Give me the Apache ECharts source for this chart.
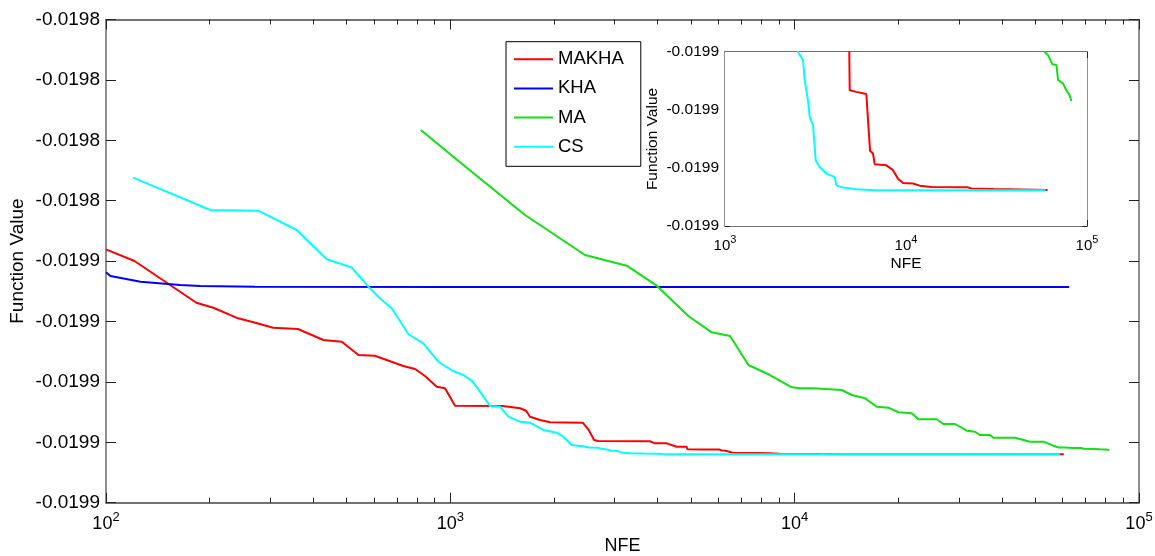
<!DOCTYPE html>
<html>
<head>
<meta charset="utf-8">
<title>Convergence curves</title>
<script src="https://cdn.jsdelivr.net/npm/echarts@6/dist/echarts.min.js"></script>
<style>
  html, body { margin: 0; padding: 0; background: #fff; }
  #chart { width: 1155px; height: 556px; }
</style>
</head>
<body>
<div id="chart"></div>
<script>
// values (NFE, function value)
var seriesNames = ['MAKHA', 'KHA', 'MA', 'CS']
var seriesColors = ['#ff0000', '#0000ff', '#11e011', '#00ffff']

var makhaNfe = [100, 121, 152, 183, 205, 242, 268, 306, 361, 428, 484, 541, 604, 730, 790, 844, 913, 965, 1032, 1422,
  1594, 1660, 1704, 1822, 1949, 2424, 2516, 2615, 2691, 3802, 3931, 4251, 4546, 4850, 4887, 5321, 6040, 6143, 6301, 6330,
  6573, 6714, 7794, 8475, 9031, 9620, 10931, 11905, 13800, 22000, 22970, 30650, 60500]
var makhaVal = [-0.019849025, -0.01984999, -0.019851895, -0.019853445, -0.01985386, -0.019854735, -0.019855065, -0.019855515,
  -0.01985562, -0.01985653, -0.01985667, -0.019857775, -0.01985783, -0.019858685, -0.01985893, -0.01985951, -0.019860395,
  -0.01986053, -0.01986197, -0.019861995, -0.019862185, -0.019862385, -0.01986288, -0.019863155, -0.019863345, -0.019863375,
  -0.019863925, -0.01986481, -0.01986489, -0.019864915, -0.019865085, -0.019865085, -0.019865365, -0.019865365, -0.019865583,
  -0.01986559, -0.019865599, -0.019865686, -0.019865693, -0.019865834, -0.019865845, -0.019865889, -0.019865894, -0.019865914,
  -0.019865949, -0.019865967, -0.019865969, -0.019865978, -0.019865984, -0.019865985, -0.01986599, -0.019865992, -0.019865996]

var khaNfe = [100, 103, 126, 164, 188, 271, 1000, 62700]
var khaVal = [-0.019850925, -0.019851235, -0.019851705, -0.01985198, -0.01985206, -0.01985212, -0.019852135, -0.019852145]

var maNfe = [821, 1067, 1648, 2461, 3253, 3977, 4912, 5743, 6494, 7337, 8480, 9808, 10370, 11330, 13700, 14650, 16020,
  17320, 18720, 20010, 21880, 22870, 25860, 27030, 29240, 31610, 33410, 34540, 36940, 37770, 43660, 48280, 52770, 56420,
  58400, 60900, 64400, 67800, 69200, 73700, 76900, 80200, 82000]
var maVal = [-0.019839145, -0.01984182, -0.019846185, -0.019849495, -0.01985038, -0.019852035, -0.019854545, -0.019855895,
  -0.0198562, -0.0198586, -0.01985943, -0.019860445, -0.01986053, -0.01986053, -0.01986067, -0.019861085, -0.01986136,
  -0.019862055, -0.019862135, -0.019862515, -0.0198626, -0.019863095, -0.019863095, -0.019863485, -0.019863485, -0.01986404,
  -0.019864125, -0.019864395, -0.019864395, -0.01986462, -0.01986462, -0.01986495, -0.01986495, -0.01986528, -0.019865425,
  -0.019865438, -0.019865476, -0.019865479, -0.019865541, -0.019865555, -0.019865583, -0.019865604, -0.019865628]

var csNfe = [120, 201, 277, 358, 438, 517, 578, 632, 676, 755, 835, 923, 1020, 1091, 1154, 1220, 1304, 1394, 1474, 1594,
  1704, 1863, 2037, 2129, 2252, 2450, 2531, 2698, 2756, 2874, 2938, 3064, 3170, 3336, 3633, 4037, 4126, 4487, 5321, 6714, 59000]
var csVal = [-0.019843095, -0.01984577, -0.01984583, -0.019847425, -0.01984985, -0.01985053, -0.01985212, -0.01985322,
  -0.019853905, -0.019856035, -0.019856805, -0.01985833, -0.0198591, -0.01985943, -0.0198599, -0.01986081, -0.019861995,
  -0.019862055, -0.01986288, -0.019863295, -0.019863375, -0.01986398, -0.019864205, -0.019864535, -0.019865225, -0.01986535,
  -0.019865425, -0.019865458, -0.019865541, -0.019865624, -0.019865693, -0.019865728, -0.019865873, -0.019865901, -0.019865928,
  -0.019865942, -0.019865977, -0.019865986, -0.019865993, -0.019865997, -0.019865997]

// axes
var xTickValues = [100, 1000, 10000, 100000]
var xMinorValues = [200, 300, 400, 500, 600, 700, 800, 900, 2000, 3000, 4000, 5000, 6000, 7000, 8000, 9000,
  20000, 30000, 40000, 50000, 60000, 70000, 80000, 90000]
var yTickValues = [-0.01987, -0.019865, -0.01986, -0.019855, -0.01985, -0.019845, -0.01984, -0.019835, -0.01983]
var yTickLabels = ['-0.0199', '-0.0199', '-0.0199', '-0.0199', '-0.0199', '-0.0198', '-0.0198', '-0.0198', '-0.0198']

var insetXTickValues = [1000, 10000, 100000]
var insetXMinorValues = [2000, 3000, 4000, 5000, 6000, 7000, 8000, 9000, 20000, 30000, 40000, 50000, 60000, 70000, 80000, 90000]
var insetYTickValues = [-0.019866145, -0.019865905, -0.019865665, -0.019865425]
var insetYTickLabels = ['-0.0199', '-0.0199', '-0.0199', '-0.0199']

var FONT = '"Liberation Sans", Arial, sans-serif'
var FRAME = '#6a6a6a'
var TICK = '#222'

function pairs(xs, ys) {
  var out = []
  for (var i = 0; i < xs.length; i++) out.push([xs[i], ys[i]])
  return out
}

function powLabel(size, supSize) {
  return {
    fontFamily: FONT,
    color: '#000',
    formatter: function (v) {
      return '{b|10}{s|' + Math.round(Math.log10(v)) + '}'
    },
    rich: {
      b: { fontSize: size, fontFamily: FONT, color: '#000', verticalAlign: 'bottom' },
      s: { fontSize: supSize, fontFamily: FONT, color: '#000', verticalAlign: 'bottom', padding: [0, 0, Math.round(size * 0.5), 0] }
    }
  }
}

function logAxis(grid, pos, min, max, ticks, len, label, extra) {
  var ax = {
    type: 'log',
    gridIndex: grid,
    position: pos,
    min: min,
    max: max,
    axisLine: { show: true, lineStyle: { color: FRAME, width: 1.5 } },
    axisTick: { show: true, inside: true, length: len, customValues: ticks, lineStyle: { color: TICK, width: 1 } },
    axisLabel: label ? label : { show: false },
    splitLine: { show: false }
  }
  if (label) ax.axisLabel.customValues = ticks
  for (var k in extra) ax[k] = extra[k]
  return ax
}

function valAxis(grid, pos, min, max, ticks, labels, len, size, extra) {
  var ax = {
    type: 'value',
    gridIndex: grid,
    position: pos,
    min: min,
    max: max,
    axisLine: { show: true, lineStyle: { color: FRAME, width: 1.5 } },
    axisTick: { show: true, inside: true, length: len, customValues: ticks, lineStyle: { color: TICK, width: 1 } },
    axisLabel: { show: false },
    splitLine: { show: false }
  }
  if (labels) {
    ax.axisLabel = {
      show: true,
      customValues: ticks,
      fontSize: size,
      fontFamily: FONT,
      color: '#000',
      margin: 6,
      formatter: function (v) {
        for (var i = 0; i < ticks.length; i++) {
          if (Math.abs(ticks[i] - v) < 1e-11) return labels[i]
        }
        return ''
      }
    }
  }
  for (var k in extra) ax[k] = extra[k]
  return ax
}

var chart = echarts.init(document.getElementById('chart'))

var mainData = [pairs(makhaNfe, makhaVal), pairs(khaNfe, khaVal), pairs(maNfe, maVal), pairs(csNfe, csVal)]

var series = []
for (var i = 0; i < 4; i++) {
  series.push({
    name: seriesNames[i],
    type: 'line',
    xAxisIndex: 0,
    yAxisIndex: 0,
    data: mainData[i],
    symbol: 'none',
    showSymbol: false,
    clip: true,
    lineStyle: { color: seriesColors[i], width: 2 },
    itemStyle: { color: seriesColors[i] },
    z: 2 + i
  })
}
// inset: same data, zoomed (KHA lies above the inset range)
var insetIdx = [0, 2, 3]
insetIdx.forEach(function (i) {
  series.push({
    name: seriesNames[i],
    type: 'line',
    xAxisIndex: 4,
    yAxisIndex: 2,
    data: mainData[i],
    symbol: 'none',
    showSymbol: false,
    clip: true,
    lineStyle: { color: seriesColors[i], width: 2 },
    itemStyle: { color: seriesColors[i] },
    z: 20 + i
  })
})

var option = {
  animation: false,
  backgroundColor: '#fff',
  grid: [
    { left: 106, top: 19.5, right: 16, bottom: 53.3, outerBoundsMode: 'none' },
    { left: 725, top: 52, width: 362, height: 174, show: true, backgroundColor: '#fff', borderWidth: 0, z: 10, outerBoundsMode: 'none' }
  ],
  legend: {
    data: seriesNames,
    orient: 'vertical',
    left: 506,
    top: 41.7,
    padding: [8, 17, 10, 7],
    itemWidth: 39,
    itemHeight: 14,
    itemGap: 10.2,
    backgroundColor: '#fff',
    borderColor: '#000',
    borderWidth: 1,
    // line only, no marker
    itemStyle: { opacity: 0, borderWidth: 0 },
    textStyle: { fontSize: 18.5, fontFamily: FONT, color: '#000' },
    z: 30
  },
  xAxis: [
    logAxis(0, 'bottom', 100, 100000, xTickValues, 10, powLabel(18, 13), {
      name: 'NFE', nameLocation: 'middle', nameGap: 34, nameMoveOverlap: false,
      nameTextStyle: { fontSize: 18, fontFamily: FONT, color: '#000' }
    }),
    logAxis(0, 'bottom', 100, 100000, xMinorValues, 5, null, {}),
    logAxis(0, 'top', 100, 100000, xTickValues, 10, null, {}),
    logAxis(0, 'top', 100, 100000, xMinorValues, 5, null, {}),
    logAxis(1, 'bottom', 1000, 100000, insetXTickValues, 6, powLabel(15, 11), {
      name: 'NFE', nameLocation: 'middle', nameGap: 30, nameMoveOverlap: false,
      nameTextStyle: { fontSize: 15.5, fontFamily: FONT, color: '#000' }
    }),
    logAxis(1, 'bottom', 1000, 100000, insetXMinorValues, 3, null, {}),
    logAxis(1, 'top', 1000, 100000, insetXTickValues, 6, null, {}),
    logAxis(1, 'top', 1000, 100000, insetXMinorValues, 3, null, {})
  ],
  yAxis: [
    valAxis(0, 'left', -0.01987, -0.01983, yTickValues, yTickLabels, 10, 19, {
      name: 'Function Value', nameLocation: 'middle', nameGap: 79, nameRotate: 90, nameMoveOverlap: false,
      nameTextStyle: { fontSize: 19, fontFamily: FONT, color: '#000' }
    }),
    valAxis(0, 'right', -0.01987, -0.01983, yTickValues, null, 10, 19, {}),
    valAxis(1, 'left', -0.019866145, -0.019865425, insetYTickValues, insetYTickLabels, 5, 15.5, {
      name: 'Function Value', nameLocation: 'middle', nameGap: 64, nameRotate: 90, nameMoveOverlap: false,
      nameTextStyle: { fontSize: 15.5, fontFamily: FONT, color: '#000' }
    }),
    valAxis(1, 'right', -0.019866145, -0.019865425, insetYTickValues, null, 5, 15.5, {})
  ],
  series: series
}

chart.setOption(option, true)
</script>
</body>
</html>
